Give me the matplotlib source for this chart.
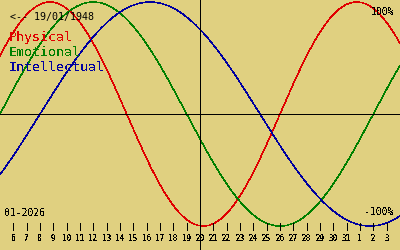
import datetime as dt
import numpy as np
import matplotlib
matplotlib.use('Agg')
import matplotlib.pyplot as plt
import matplotlib.transforms as mtransforms

# chart data
birth_date = dt.date(1948, 1, 19)
today = dt.date(2026, 1, 20)
start_date = dt.date(2026, 1, 5)
n_days = 30
cycle_names = ['Physical', 'Emotional', 'Intellectual']
cycle_periods = [23, 28, 33]
cycle_colors = ['#e00000', '#008000', '#0000a0']
month_label = '01-2026'

bg = '#e0d080'
plt.rcParams['text.antialiased'] = False
plt.rcParams['font.family'] = ['DejaVu Sans Mono']

fig = plt.figure(figsize=(4, 2.5), dpi=100, facecolor=bg)
ax = fig.add_axes([0, 0, 1, 1])
ax.set_facecolor(bg)
ax.set_xlim(0, n_days)
ax.set_ylim(-1.214, 1.018)
ax.axis('off')

# biorhythm curves, days counted from birth
x = np.linspace(0, n_days, 600)
age = (start_date - birth_date).days + x
for name, period, color in zip(cycle_names, cycle_periods, cycle_colors):
    ax.plot(x, np.sin(2 * np.pi * age / period), color=color, lw=0.35, antialiased=False)

today_x = (today - start_date).days
ax.axhline(0, color='black', lw=0.6, antialiased=False)
ax.axvline(today_x, color='black', lw=0.6, antialiased=False)

# day ticks along the bottom
trans = mtransforms.blended_transform_factory(ax.transData, ax.transAxes)
for i in range(1, n_days):
    d = start_date + dt.timedelta(days=i)
    ax.plot([i, i], [0.08, 0.108], color='black', lw=0.6, transform=trans, antialiased=False)
    ax.text(i, 0.045, str(d.day), transform=trans, ha='center', va='center',
            fontsize=5.5, fontweight='bold')

ax.text(0.025, 0.932, '<-- ' + birth_date.strftime('%d/%m/%Y'), transform=ax.transAxes,
        fontsize=7.2, va='center', ha='left', antialiased=True)
for k, (name, color) in enumerate(zip(cycle_names, cycle_colors)):
    ax.text(0.022, 0.848 - k * 0.059, name, color=color, transform=ax.transAxes,
            fontsize=9.5, va='center', ha='left')
ax.text(0.985, 0.952, '100%', transform=ax.transAxes, fontsize=7, ha='right', va='center')
ax.text(0.985, 0.152, '-100%', transform=ax.transAxes, fontsize=7, ha='right', va='center')
ax.text(0.01, 0.148, month_label, transform=ax.transAxes, fontsize=7, ha='left', va='center')

fig.savefig('out.png', dpi=100, facecolor=bg)
